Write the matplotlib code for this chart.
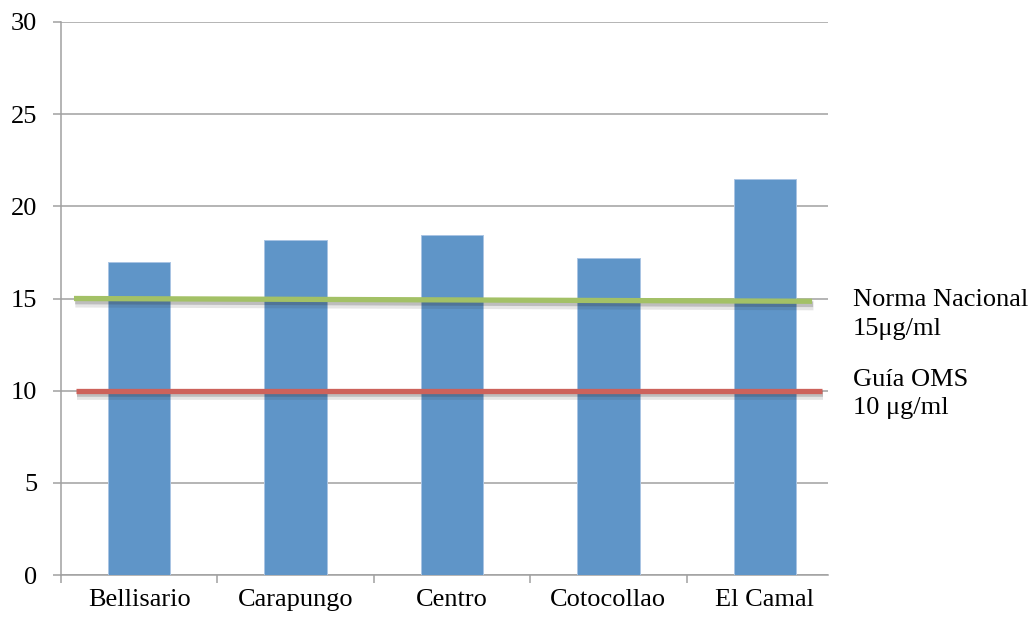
import matplotlib
matplotlib.use("Agg")
import matplotlib.pyplot as plt
import matplotlib.patheffects as pe
import numpy as np

# PM2.5 annual means by monitoring station
stations = ["Bellisario", "Carapungo", "Centro", "Cotocollao", "El Camal"]
pm25 = [17.0, 18.2, 18.45, 17.2, 21.5]

# Reference limits
norma_nacional = 15
guia_oms = 10
yticks = [0, 5, 10, 15, 20, 25, 30]

plt.rcParams["font.family"] = ["Liberation Serif", "DejaVu Serif"]

W, H = 1031, 622
fig = plt.figure(figsize=(W / 100, H / 100), dpi=100)
ax = fig.add_axes([61 / W, (H - 575) / H, (828 - 61) / W, (575 - 22) / H])

grid_col = "#a0a0a0"
bar_col = "#5f95c8"

x = np.arange(len(stations))
ax.bar(x, pm25, width=0.40, color=bar_col, edgecolor="#a9c4e4",
       linewidth=0.7, zorder=3)

ax.set_xlim(-0.5, -0.5 + 767 / 156.4)
ax.set_ylim(0, 30)
ax.set_yticks(yticks)
ax.yaxis.grid(True, color=grid_col, linewidth=1.1, zorder=0)
ax.set_axisbelow(True)

for side in ["top", "right"]:
    ax.spines[side].set_visible(False)
for side in ["left", "bottom"]:
    ax.spines[side].set_color(grid_col)
    ax.spines[side].set_linewidth(1.1)

ax.tick_params(axis="y", length=6, width=1.1, color=grid_col, pad=11,
               labelsize=19)
ax.set_xticks(x)
ax.set_xticklabels(stations, va="baseline")
ax.tick_params(axis="x", which="major", length=0, pad=22, labelsize=19)
ax.set_xticks(np.arange(len(stations)) - 0.5, minor=True)
ax.tick_params(axis="x", which="minor", length=6, width=1.1, color=grid_col)

shadow = [pe.SimpleLineShadow(offset=(1.0, -3.0), shadow_color="#303030",
                              alpha=0.12, linewidth=7),
          pe.SimpleLineShadow(offset=(0.8, -2.2), shadow_color="#303030",
                              alpha=0.22, linewidth=4),
          pe.Normal()]

# Limit lines drawn across the stations
ax.plot([-0.417, 4.302], [norma_nacional, norma_nacional - 0.15],
        color="#a3c166", linewidth=3.8, solid_capstyle="butt",
        zorder=4, path_effects=shadow)
ax.plot([-0.404, 4.366], [guia_oms, guia_oms],
        color="#cd625b", linewidth=3.8, solid_capstyle="butt",
        zorder=4, path_effects=shadow)

# Limit labels at the right
def fig_text(px, py, s):
    fig.text(px / W, 1 - py / H, s, fontsize=19, ha="left", va="center")

fig_text(853, 300, "Norma Nacional")
fig_text(853, 329, f"{norma_nacional}μg/ml")
fig_text(853, 380, "Guía OMS")
fig_text(853, 408, f"{guia_oms} μg/ml")

fig.savefig("out.png", dpi=100, facecolor="white")
